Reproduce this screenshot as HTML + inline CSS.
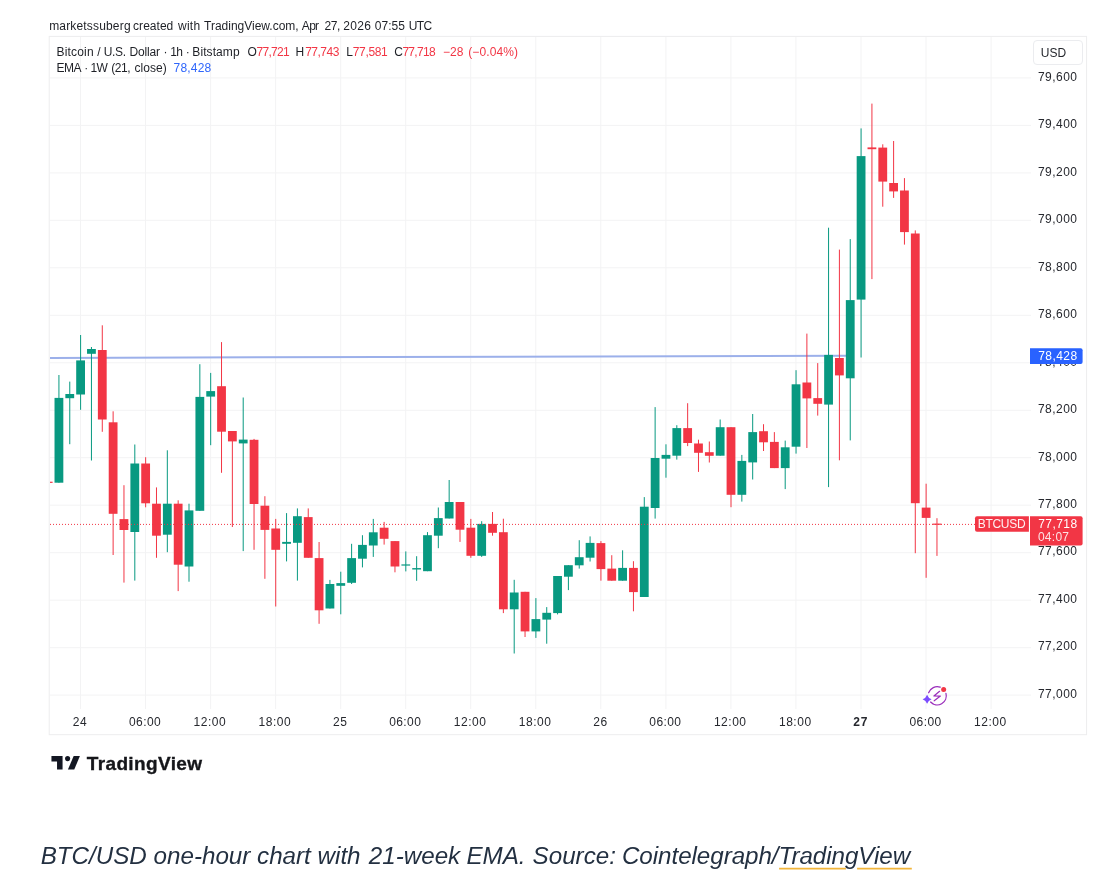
<!DOCTYPE html>
<html lang="en">
<head>
<meta charset="utf-8">
<title>BTC/USD one-hour chart</title>
<style>
html,body{margin:0;padding:0;background:#fff;}
body{width:1116px;height:884px;position:relative;overflow:hidden;font-family:"Liberation Sans",sans-serif;}
.chart{position:absolute;left:0;top:0;}
.t{position:absolute;white-space:pre;font-family:"Liberation Sans",sans-serif;}
</style>
</head>
<body>
<svg class="chart" width="1116" height="884" viewBox="0 0 1116 884">
<rect x="49.2" y="36.4" width="1037.4" height="698.3" fill="#fff" stroke="#ededee" stroke-width="1"/>
<g stroke="#f3f3f4" stroke-width="1"><line x1="50" x2="1031" y1="77.9" y2="77.9"/><line x1="50" x2="1031" y1="125.4" y2="125.4"/><line x1="50" x2="1031" y1="172.9" y2="172.9"/><line x1="50" x2="1031" y1="220.3" y2="220.3"/><line x1="50" x2="1031" y1="267.8" y2="267.8"/><line x1="50" x2="1031" y1="315.3" y2="315.3"/><line x1="50" x2="1031" y1="362.8" y2="362.8"/><line x1="50" x2="1031" y1="410.3" y2="410.3"/><line x1="50" x2="1031" y1="457.7" y2="457.7"/><line x1="50" x2="1031" y1="505.2" y2="505.2"/><line x1="50" x2="1031" y1="552.7" y2="552.7"/><line x1="50" x2="1031" y1="600.2" y2="600.2"/><line x1="50" x2="1031" y1="647.7" y2="647.7"/><line x1="50" x2="1031" y1="695.1" y2="695.1"/><line x1="80.5" x2="80.5" y1="37" y2="709"/><line x1="145.5" x2="145.5" y1="37" y2="709"/><line x1="210.6" x2="210.6" y1="37" y2="709"/><line x1="275.6" x2="275.6" y1="37" y2="709"/><line x1="340.7" x2="340.7" y1="37" y2="709"/><line x1="405.7" x2="405.7" y1="37" y2="709"/><line x1="470.7" x2="470.7" y1="37" y2="709"/><line x1="535.8" x2="535.8" y1="37" y2="709"/><line x1="600.8" x2="600.8" y1="37" y2="709"/><line x1="665.9" x2="665.9" y1="37" y2="709"/><line x1="730.9" x2="730.9" y1="37" y2="709"/><line x1="795.9" x2="795.9" y1="37" y2="709"/><line x1="861.0" x2="861.0" y1="37" y2="709"/><line x1="926.0" x2="926.0" y1="37" y2="709"/><line x1="991.1" x2="991.1" y1="37" y2="709"/></g>
<path d="M50 357.9 L846 355.7" stroke="#9cb0ea" stroke-width="2" fill="none"/>
<rect x="50" y="481.7" width="2.6" height="1.2" fill="#f23645"/>
<g fill="#089981"><rect x="58.42" y="375.0" width="1" height="107.7"/><rect x="54.52" y="397.9" width="8.8" height="84.8"/></g><g fill="#089981"><rect x="69.26" y="381.6" width="1" height="62.6"/><rect x="65.36" y="394.0" width="8.8" height="4.2"/></g><g fill="#089981"><rect x="80.10" y="335.0" width="1" height="74.8"/><rect x="76.20" y="360.4" width="8.8" height="34.1"/></g><g fill="#089981"><rect x="90.94" y="347.0" width="1" height="113.5"/><rect x="87.04" y="349.0" width="8.8" height="4.8"/></g><g fill="#f23645"><rect x="101.78" y="325.3" width="1" height="106.5"/><rect x="97.88" y="350.0" width="8.8" height="69.5"/></g><g fill="#f23645"><rect x="112.62" y="411.3" width="1" height="143.7"/><rect x="108.72" y="422.3" width="8.8" height="91.5"/></g><g fill="#f23645"><rect x="123.46" y="485.2" width="1" height="97.4"/><rect x="119.56" y="519.1" width="8.8" height="10.9"/></g><g fill="#089981"><rect x="134.30" y="444.5" width="1" height="136.1"/><rect x="130.40" y="463.5" width="8.8" height="68.5"/></g><g fill="#f23645"><rect x="145.14" y="457.2" width="1" height="50.1"/><rect x="141.24" y="463.5" width="8.8" height="39.8"/></g><g fill="#f23645"><rect x="155.98" y="487.4" width="1" height="70.4"/><rect x="152.08" y="503.7" width="8.8" height="32.0"/></g><g fill="#089981"><rect x="166.82" y="450.3" width="1" height="101.9"/><rect x="162.92" y="503.7" width="8.8" height="31.0"/></g><g fill="#f23645"><rect x="177.66" y="500.3" width="1" height="90.8"/><rect x="173.76" y="503.7" width="8.8" height="61.0"/></g><g fill="#089981"><rect x="188.50" y="503.7" width="1" height="78.0"/><rect x="184.60" y="510.4" width="8.8" height="56.1"/></g><g fill="#089981"><rect x="199.34" y="364.2" width="1" height="146.6"/><rect x="195.44" y="396.9" width="8.8" height="113.9"/></g><g fill="#089981"><rect x="210.18" y="372.9" width="1" height="72.3"/><rect x="206.28" y="391.1" width="8.8" height="5.5"/></g><g fill="#f23645"><rect x="221.02" y="342.1" width="1" height="130.7"/><rect x="217.12" y="386.2" width="8.8" height="45.5"/></g><g fill="#f23645"><rect x="231.86" y="431.0" width="1" height="96.0"/><rect x="227.96" y="431.0" width="8.8" height="10.4"/></g><g fill="#089981"><rect x="242.70" y="397.5" width="1" height="153.6"/><rect x="238.80" y="439.6" width="8.8" height="3.8"/></g><g fill="#f23645"><rect x="253.54" y="438.9" width="1" height="110.9"/><rect x="249.64" y="439.8" width="8.8" height="64.2"/></g><g fill="#f23645"><rect x="264.38" y="496.2" width="1" height="82.6"/><rect x="260.48" y="505.7" width="8.8" height="24.2"/></g><g fill="#f23645"><rect x="275.22" y="518.9" width="1" height="87.6"/><rect x="271.32" y="528.5" width="8.8" height="21.3"/></g><g fill="#089981"><rect x="286.06" y="513.1" width="1" height="48.3"/><rect x="282.16" y="541.9" width="8.8" height="1.9"/></g><g fill="#089981"><rect x="296.90" y="508.4" width="1" height="72.2"/><rect x="293.00" y="516.2" width="8.8" height="26.6"/></g><g fill="#f23645"><rect x="307.74" y="508.4" width="1" height="49.4"/><rect x="303.84" y="517.1" width="8.8" height="40.7"/></g><g fill="#f23645"><rect x="318.58" y="542.0" width="1" height="81.8"/><rect x="314.68" y="558.1" width="8.8" height="52.2"/></g><g fill="#089981"><rect x="329.42" y="579.9" width="1" height="28.6"/><rect x="325.52" y="584.0" width="8.8" height="24.5"/></g><g fill="#089981"><rect x="340.26" y="571.7" width="1" height="42.6"/><rect x="336.36" y="583.1" width="8.8" height="2.7"/></g><g fill="#089981"><rect x="351.10" y="543.8" width="1" height="40.2"/><rect x="347.20" y="558.1" width="8.8" height="24.7"/></g><g fill="#089981"><rect x="361.94" y="535.2" width="1" height="32.2"/><rect x="358.04" y="544.9" width="8.8" height="13.8"/></g><g fill="#089981"><rect x="372.78" y="518.9" width="1" height="38.0"/><rect x="368.88" y="532.3" width="8.8" height="13.2"/></g><g fill="#f23645"><rect x="383.62" y="521.9" width="1" height="22.7"/><rect x="379.72" y="527.7" width="8.8" height="11.1"/></g><g fill="#f23645"><rect x="394.46" y="541.1" width="1" height="31.2"/><rect x="390.56" y="541.1" width="8.8" height="25.4"/></g><g fill="#089981"><rect x="405.30" y="551.4" width="1" height="20.0"/><rect x="401.40" y="564.4" width="8.8" height="1.2"/></g><g fill="#089981"><rect x="416.14" y="556.2" width="1" height="24.6"/><rect x="412.24" y="568.1" width="8.8" height="1.4"/></g><g fill="#089981"><rect x="426.98" y="532.1" width="1" height="39.1"/><rect x="423.08" y="535.2" width="8.8" height="36.0"/></g><g fill="#089981"><rect x="437.82" y="507.5" width="1" height="40.7"/><rect x="433.92" y="518.1" width="8.8" height="17.6"/></g><g fill="#089981"><rect x="448.66" y="480.0" width="1" height="38.5"/><rect x="444.76" y="502.0" width="8.8" height="16.5"/></g><g fill="#f23645"><rect x="459.50" y="502.0" width="1" height="39.9"/><rect x="455.60" y="502.0" width="8.8" height="27.7"/></g><g fill="#f23645"><rect x="470.34" y="518.9" width="1" height="38.9"/><rect x="466.44" y="527.7" width="8.8" height="28.1"/></g><g fill="#089981"><rect x="481.18" y="521.2" width="1" height="35.7"/><rect x="477.28" y="523.9" width="8.8" height="31.9"/></g><g fill="#f23645"><rect x="492.02" y="512.0" width="1" height="23.7"/><rect x="488.12" y="523.9" width="8.8" height="8.9"/></g><g fill="#f23645"><rect x="502.86" y="518.7" width="1" height="94.4"/><rect x="498.96" y="532.2" width="8.8" height="77.1"/></g><g fill="#089981"><rect x="513.70" y="579.8" width="1" height="73.7"/><rect x="509.80" y="592.5" width="8.8" height="16.8"/></g><g fill="#f23645"><rect x="524.54" y="591.8" width="1" height="45.2"/><rect x="520.64" y="591.8" width="8.8" height="39.6"/></g><g fill="#089981"><rect x="535.38" y="598.1" width="1" height="39.8"/><rect x="531.48" y="619.1" width="8.8" height="12.3"/></g><g fill="#089981"><rect x="546.22" y="607.1" width="1" height="36.6"/><rect x="542.32" y="612.8" width="8.8" height="6.8"/></g><g fill="#089981"><rect x="557.06" y="576.0" width="1" height="38.4"/><rect x="553.16" y="576.0" width="8.8" height="37.1"/></g><g fill="#089981"><rect x="567.90" y="565.2" width="1" height="24.9"/><rect x="564.00" y="565.2" width="8.8" height="11.5"/></g><g fill="#089981"><rect x="578.74" y="540.2" width="1" height="28.4"/><rect x="574.84" y="557.2" width="8.8" height="8.1"/></g><g fill="#089981"><rect x="589.58" y="536.4" width="1" height="25.1"/><rect x="585.68" y="542.9" width="8.8" height="14.8"/></g><g fill="#f23645"><rect x="600.42" y="541.1" width="1" height="39.6"/><rect x="596.52" y="543.1" width="8.8" height="26.0"/></g><g fill="#f23645"><rect x="611.26" y="555.2" width="1" height="25.5"/><rect x="607.36" y="568.6" width="8.8" height="12.1"/></g><g fill="#089981"><rect x="622.10" y="550.3" width="1" height="30.4"/><rect x="618.20" y="567.9" width="8.8" height="12.8"/></g><g fill="#f23645"><rect x="632.94" y="561.2" width="1" height="50.1"/><rect x="629.04" y="567.9" width="8.8" height="24.2"/></g><g fill="#089981"><rect x="643.78" y="497.1" width="1" height="99.9"/><rect x="639.88" y="506.7" width="8.8" height="90.3"/></g><g fill="#089981"><rect x="654.62" y="407.1" width="1" height="111.5"/><rect x="650.72" y="458.0" width="8.8" height="50.0"/></g><g fill="#089981"><rect x="665.46" y="444.3" width="1" height="33.4"/><rect x="661.56" y="454.9" width="8.8" height="3.8"/></g><g fill="#089981"><rect x="676.30" y="425.2" width="1" height="34.4"/><rect x="672.40" y="428.1" width="8.8" height="27.6"/></g><g fill="#f23645"><rect x="687.14" y="403.2" width="1" height="42.9"/><rect x="683.24" y="428.1" width="8.8" height="14.9"/></g><g fill="#f23645"><rect x="697.98" y="439.7" width="1" height="32.2"/><rect x="694.08" y="443.5" width="8.8" height="9.3"/></g><g fill="#f23645"><rect x="708.82" y="441.5" width="1" height="21.0"/><rect x="704.92" y="452.2" width="8.8" height="3.6"/></g><g fill="#089981"><rect x="719.66" y="419.5" width="1" height="36.2"/><rect x="715.76" y="427.2" width="8.8" height="28.5"/></g><g fill="#f23645"><rect x="730.50" y="427.2" width="1" height="80.0"/><rect x="726.60" y="427.2" width="8.8" height="67.6"/></g><g fill="#089981"><rect x="741.34" y="454.9" width="1" height="46.7"/><rect x="737.44" y="460.9" width="8.8" height="33.9"/></g><g fill="#089981"><rect x="752.18" y="414.0" width="1" height="65.5"/><rect x="748.28" y="432.1" width="8.8" height="30.3"/></g><g fill="#f23645"><rect x="763.02" y="424.2" width="1" height="26.8"/><rect x="759.12" y="431.2" width="8.8" height="11.1"/></g><g fill="#f23645"><rect x="773.86" y="432.1" width="1" height="36.0"/><rect x="769.96" y="441.9" width="8.8" height="26.2"/></g><g fill="#089981"><rect x="784.70" y="440.6" width="1" height="48.5"/><rect x="780.80" y="447.3" width="8.8" height="20.8"/></g><g fill="#089981"><rect x="795.54" y="370.2" width="1" height="83.4"/><rect x="791.64" y="384.3" width="8.8" height="62.4"/></g><g fill="#f23645"><rect x="806.38" y="333.6" width="1" height="114.4"/><rect x="802.48" y="382.5" width="8.8" height="15.9"/></g><g fill="#f23645"><rect x="817.22" y="363.1" width="1" height="52.5"/><rect x="813.32" y="398.1" width="8.8" height="5.7"/></g><g fill="#089981"><rect x="828.06" y="227.7" width="1" height="259.4"/><rect x="824.16" y="354.9" width="8.8" height="49.7"/></g><g fill="#f23645"><rect x="838.90" y="249.6" width="1" height="210.7"/><rect x="835.00" y="358.0" width="8.8" height="17.4"/></g><g fill="#089981"><rect x="849.74" y="239.1" width="1" height="201.3"/><rect x="845.84" y="300.1" width="8.8" height="78.2"/></g><g fill="#089981"><rect x="860.58" y="128.4" width="1" height="229.1"/><rect x="856.68" y="156.1" width="8.8" height="143.5"/></g><g fill="#f23645"><rect x="871.42" y="103.6" width="1" height="175.5"/><rect x="867.52" y="147.4" width="8.8" height="1.8"/></g><g fill="#f23645"><rect x="882.26" y="144.3" width="1" height="62.4"/><rect x="878.36" y="147.6" width="8.8" height="34.0"/></g><g fill="#f23645"><rect x="893.10" y="141.0" width="1" height="56.9"/><rect x="889.20" y="183.0" width="8.8" height="8.4"/></g><g fill="#f23645"><rect x="903.94" y="178.1" width="1" height="66.5"/><rect x="900.04" y="190.5" width="8.8" height="41.6"/></g><g fill="#f23645"><rect x="914.78" y="230.4" width="1" height="322.8"/><rect x="910.88" y="233.5" width="8.8" height="269.7"/></g><g fill="#f23645"><rect x="925.62" y="483.7" width="1" height="94.1"/><rect x="921.72" y="507.6" width="8.8" height="10.3"/></g><g fill="#f23645"><rect x="936.46" y="518.2" width="1" height="37.7"/><rect x="932.56" y="523.6" width="8.8" height="1.2"/></g>
<line x1="50" x2="975" y1="524.4" y2="524.4" stroke="#f23645" stroke-width="1" stroke-dasharray="1 2"/>
<rect x="1033.5" y="40.5" width="49" height="24" rx="3.5" fill="#fff" stroke="#ebecef"/>
<g fill="none" stroke="#9a2dbb" stroke-linecap="round" stroke-linejoin="round">
<path d="M928.62 692.78 A9.1 9.1 0 0 1 940.21 687.21" stroke-width="1.25"/>
<path d="M945.96 693.35 A9.1 9.1 0 0 1 930.58 702.04" stroke-width="1.25"/>
<path d="M939.6 691.3L933.9 696L940.4 696.1L934.2 700.8" stroke-width="1.2"/>
</g>
<circle cx="943.65" cy="689.4" r="2.5" fill="#f23645"/>
<path d="M927.1 694.65Q928.25 698.0 931.6 699.15Q928.25 700.3 927.1 703.65Q925.95 700.3 922.6 699.15Q925.95 698.0 927.1 694.65Z" fill="#7c4dff"/>
<g fill="#131722">
<path d="M51.45 756.1H62.56V769.5H57.04V761.6H51.45Z"/>
<circle cx="67.6" cy="758.6" r="2.55"/>
<path d="M73.67 756.1H79.9L74.25 769.5H67.94Z"/>
</g>
<path d="M779.1 867.7H845.9V869.6H779.1ZM857.1 867.7H911.8V869.6H857.1Z" fill="#f2b53a"/>
</svg>
<span class="t" style="left:1038.00px;top:71.00px;font-size:12px;line-height:12px;color:#26282e;letter-spacing:0.450px;">79,600</span>
<span class="t" style="left:1038.00px;top:118.00px;font-size:12px;line-height:12px;color:#26282e;letter-spacing:0.450px;">79,400</span>
<span class="t" style="left:1038.00px;top:166.00px;font-size:12px;line-height:12px;color:#26282e;letter-spacing:0.450px;">79,200</span>
<span class="t" style="left:1038.00px;top:213.00px;font-size:12px;line-height:12px;color:#26282e;letter-spacing:0.450px;">79,000</span>
<span class="t" style="left:1038.00px;top:261.00px;font-size:12px;line-height:12px;color:#26282e;letter-spacing:0.450px;">78,800</span>
<span class="t" style="left:1038.00px;top:308.00px;font-size:12px;line-height:12px;color:#26282e;letter-spacing:0.450px;">78,600</span>
<span class="t" style="left:1038.00px;top:356.00px;font-size:12px;line-height:12px;color:#26282e;letter-spacing:0.450px;">78,400</span>
<span class="t" style="left:1038.00px;top:403.00px;font-size:12px;line-height:12px;color:#26282e;letter-spacing:0.450px;">78,200</span>
<span class="t" style="left:1038.00px;top:451.00px;font-size:12px;line-height:12px;color:#26282e;letter-spacing:0.450px;">78,000</span>
<span class="t" style="left:1038.00px;top:498.00px;font-size:12px;line-height:12px;color:#26282e;letter-spacing:0.450px;">77,800</span>
<span class="t" style="left:1038.00px;top:545.00px;font-size:12px;line-height:12px;color:#26282e;letter-spacing:0.450px;">77,600</span>
<span class="t" style="left:1038.00px;top:593.00px;font-size:12px;line-height:12px;color:#26282e;letter-spacing:0.450px;">77,400</span>
<span class="t" style="left:1038.00px;top:640.00px;font-size:12px;line-height:12px;color:#26282e;letter-spacing:0.450px;">77,200</span>
<span class="t" style="left:1038.00px;top:688.00px;font-size:12px;line-height:12px;color:#26282e;letter-spacing:0.450px;">77,000</span>
<svg class="chart" width="1116" height="884" viewBox="0 0 1116 884">
<path d="M1030 348.2H1080.6A2 2 0 0 1 1082.6 350.2V362A2 2 0 0 1 1080.6 364H1030Z" fill="#2962ff"/>
<path d="M977 516.2H1028.9V531.8H977A2 2 0 0 1 975 529.8V518.2A2 2 0 0 1 977 516.2Z" fill="#f23645"/>
<path d="M1030 516.2H1080.6A2 2 0 0 1 1082.6 518.2V543.5A2 2 0 0 1 1080.6 545.5H1030Z" fill="#f23645"/>
</svg>
<span class="t" style="left:49.15px;top:20.00px;font-size:12px;line-height:12px;color:#1e2026;letter-spacing:0.171px;">marketssuberg</span>
<span class="t" style="left:133.10px;top:20.00px;font-size:12px;line-height:12px;color:#1e2026;letter-spacing:0.025px;">created</span>
<span class="t" style="left:178.00px;top:20.00px;font-size:12px;line-height:12px;color:#1e2026;letter-spacing:0.267px;">with</span>
<span class="t" style="left:204.05px;top:20.00px;font-size:12px;line-height:12px;color:#1e2026;letter-spacing:-0.007px;">TradingView.com,</span>
<span class="t" style="left:301.85px;top:20.00px;font-size:12px;line-height:12px;color:#1e2026;letter-spacing:-0.700px;">Apr</span>
<span class="t" style="left:324.60px;top:20.00px;font-size:12px;line-height:12px;color:#1e2026;letter-spacing:-0.475px;">27,</span>
<span class="t" style="left:343.20px;top:20.00px;font-size:12px;line-height:12px;color:#1e2026;letter-spacing:0.350px;">2026</span>
<span class="t" style="left:374.80px;top:20.00px;font-size:12px;line-height:12px;color:#1e2026;letter-spacing:0.025px;">07:55</span>
<span class="t" style="left:408.70px;top:20.00px;font-size:12px;line-height:12px;color:#1e2026;letter-spacing:-0.550px;">UTC</span>
<span class="t" style="left:56.60px;top:46.00px;font-size:12px;line-height:12px;color:#1e2026;letter-spacing:0.158px;">Bitcoin</span>
<span class="t" style="left:97.30px;top:46.00px;font-size:12px;line-height:12px;color:#1e2026;letter-spacing:0.000px;">/</span>
<span class="t" style="left:103.70px;top:46.00px;font-size:12px;line-height:12px;color:#1e2026;letter-spacing:-0.283px;">U.S.</span>
<span class="t" style="left:129.40px;top:46.00px;font-size:12px;line-height:12px;color:#1e2026;letter-spacing:-0.150px;">Dollar</span>
<span class="t" style="left:163.50px;top:46.00px;font-size:12px;line-height:12px;color:#1e2026;letter-spacing:0.000px;">·</span>
<span class="t" style="left:170.35px;top:46.00px;font-size:12px;line-height:12px;color:#1e2026;letter-spacing:-0.700px;">1h</span>
<span class="t" style="left:185.70px;top:46.00px;font-size:12px;line-height:12px;color:#1e2026;letter-spacing:0.000px;">·</span>
<span class="t" style="left:192.30px;top:46.00px;font-size:12px;line-height:12px;color:#1e2026;letter-spacing:0.093px;">Bitstamp</span>
<span class="t" style="left:247.40px;top:46.00px;font-size:12px;line-height:12px;color:#1e2026;letter-spacing:0.000px;">O</span>
<span class="t" style="left:256.40px;top:46.00px;font-size:12px;line-height:12px;color:#f23645;letter-spacing:-0.680px;">77,721</span>
<span class="t" style="left:295.60px;top:46.00px;font-size:12px;line-height:12px;color:#1e2026;letter-spacing:0.000px;">H</span>
<span class="t" style="left:305.20px;top:46.00px;font-size:12px;line-height:12px;color:#f23645;letter-spacing:-0.510px;">77,743</span>
<span class="t" style="left:346.20px;top:46.00px;font-size:12px;line-height:12px;color:#1e2026;letter-spacing:0.000px;">L</span>
<span class="t" style="left:352.80px;top:46.00px;font-size:12px;line-height:12px;color:#f23645;letter-spacing:-0.360px;">77,581</span>
<span class="t" style="left:394.30px;top:46.00px;font-size:12px;line-height:12px;color:#1e2026;letter-spacing:0.000px;">C</span>
<span class="t" style="left:402.40px;top:46.00px;font-size:12px;line-height:12px;color:#f23645;letter-spacing:-0.690px;">77,718</span>
<span class="t" style="left:442.90px;top:46.00px;font-size:12px;line-height:12px;color:#f23645;letter-spacing:0.125px;">−28</span>
<span class="t" style="left:468.15px;top:46.00px;font-size:12px;line-height:12px;color:#f23645;letter-spacing:0.129px;">(−0.04%)</span>
<span class="t" style="left:56.60px;top:62.00px;font-size:12px;line-height:12px;color:#1e2026;letter-spacing:-0.600px;">EMA</span>
<span class="t" style="left:84.20px;top:62.00px;font-size:12px;line-height:12px;color:#1e2026;letter-spacing:0.000px;">·</span>
<span class="t" style="left:90.55px;top:62.00px;font-size:12px;line-height:12px;color:#1e2026;letter-spacing:-0.700px;">1W</span>
<span class="t" style="left:111.35px;top:62.00px;font-size:12px;line-height:12px;color:#1e2026;letter-spacing:-0.467px;">(21,</span>
<span class="t" style="left:134.40px;top:62.00px;font-size:12px;line-height:12px;color:#1e2026;letter-spacing:0.050px;">close)</span>
<span class="t" style="left:173.60px;top:62.00px;font-size:12px;line-height:12px;color:#2f66fb;letter-spacing:0.190px;">78,428</span>
<span class="t" style="left:72.85px;top:716.00px;font-size:12px;line-height:12px;color:#26282e;letter-spacing:0.400px;">24</span>
<span class="t" style="left:129.04px;top:716.00px;font-size:12px;line-height:12px;color:#26282e;letter-spacing:0.400px;">06:00</span>
<span class="t" style="left:193.58px;top:716.00px;font-size:12px;line-height:12px;color:#26282e;letter-spacing:0.525px;">12:00</span>
<span class="t" style="left:258.62px;top:716.00px;font-size:12px;line-height:12px;color:#26282e;letter-spacing:0.525px;">18:00</span>
<span class="t" style="left:333.01px;top:716.00px;font-size:12px;line-height:12px;color:#26282e;letter-spacing:0.650px;">25</span>
<span class="t" style="left:389.20px;top:716.00px;font-size:12px;line-height:12px;color:#26282e;letter-spacing:0.400px;">06:00</span>
<span class="t" style="left:453.74px;top:716.00px;font-size:12px;line-height:12px;color:#26282e;letter-spacing:0.525px;">12:00</span>
<span class="t" style="left:518.78px;top:716.00px;font-size:12px;line-height:12px;color:#26282e;letter-spacing:0.525px;">18:00</span>
<span class="t" style="left:593.17px;top:716.00px;font-size:12px;line-height:12px;color:#26282e;letter-spacing:0.650px;">26</span>
<span class="t" style="left:649.36px;top:716.00px;font-size:12px;line-height:12px;color:#26282e;letter-spacing:0.400px;">06:00</span>
<span class="t" style="left:713.90px;top:716.00px;font-size:12px;line-height:12px;color:#26282e;letter-spacing:0.525px;">12:00</span>
<span class="t" style="left:778.94px;top:716.00px;font-size:12px;line-height:12px;color:#26282e;letter-spacing:0.525px;">18:00</span>
<span class="t" style="left:853.33px;top:716.00px;font-size:12px;line-height:12px;color:#26282e;letter-spacing:0.650px;font-weight:bold;">27</span>
<span class="t" style="left:909.52px;top:716.00px;font-size:12px;line-height:12px;color:#26282e;letter-spacing:0.400px;">06:00</span>
<span class="t" style="left:974.06px;top:716.00px;font-size:12px;line-height:12px;color:#26282e;letter-spacing:0.525px;">12:00</span>
<span class="t" style="left:1040.80px;top:47.00px;font-size:12px;line-height:12px;color:#26282e;letter-spacing:0.025px;">USD</span>
<span class="t" style="left:86.75px;top:754.00px;font-size:19px;line-height:19px;color:#15161a;letter-spacing:0.375px;font-weight:bold;-webkit-text-stroke:0.35px #15161a;">TradingView</span>
<span class="t" style="left:40.65px;top:844.40px;font-size:24.2px;line-height:24.2px;color:#233041;letter-spacing:0.000px;font-style:italic;">BTC/USD one-hour chart with</span>
<span class="t" style="left:368.75px;top:844.40px;font-size:24.2px;line-height:24.2px;color:#233041;letter-spacing:0.000px;font-style:italic;">21-week</span>
<span class="t" style="left:466.45px;top:844.40px;font-size:24.2px;line-height:24.2px;color:#233041;letter-spacing:0.000px;font-style:italic;">EMA.</span>
<span class="t" style="left:532.55px;top:844.40px;font-size:24.2px;line-height:24.2px;color:#233041;letter-spacing:0.000px;font-style:italic;">Source:</span>
<span class="t" style="left:621.95px;top:844.40px;font-size:24.2px;line-height:24.2px;color:#233041;letter-spacing:-0.054px;font-style:italic;">Cointelegraph/TradingView</span>
<span class="t" style="left:1038.20px;top:350.00px;font-size:12px;line-height:12px;color:#fff;letter-spacing:0.450px;">78,428</span>
<span class="t" style="left:977.80px;top:518.00px;font-size:12px;line-height:12px;color:rgba(255,255,255,.93);letter-spacing:-0.310px;">BTCUSD</span>
<span class="t" style="left:1038.20px;top:518.00px;font-size:12px;line-height:12px;color:#fff;letter-spacing:0.450px;">77,718</span>
<span class="t" style="left:1037.90px;top:531.00px;font-size:12px;line-height:12px;color:rgba(255,255,255,.85);letter-spacing:0.275px;">04:07</span>
</body>
</html>
